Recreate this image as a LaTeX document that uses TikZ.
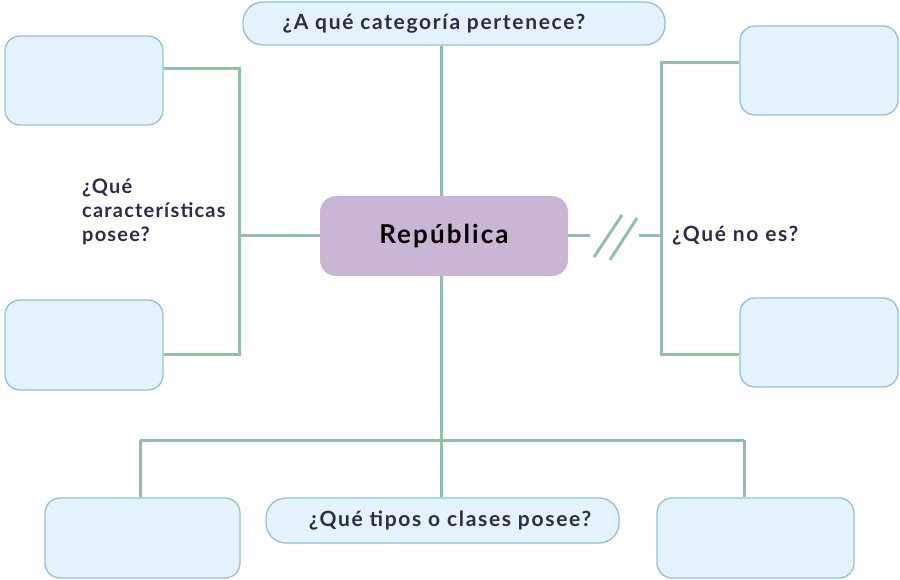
\documentclass[tikz,border=0pt]{standalone}
\usepackage{fontspec}
\setmainfont{Lato}
\newfontfamily\lblfont[LetterSpace=8]{Lato}
\newfontfamily\leftfont[LetterSpace=6]{Lato}
\newfontfamily\repfont[LetterSpace=8]{Lato}
\usetikzlibrary{calc}
\definecolor{linegreen}{HTML}{93C0A4}
\definecolor{boxfill}{HTML}{E4F2FB}
\definecolor{boxdraw}{HTML}{8FC1D9}
\definecolor{repfill}{HTML}{C8B6D4}
\definecolor{txt}{HTML}{2D2A4B}
\tikzset{
  conn/.style={draw=linegreen, line width=3pt, line join=miter},
  emptybox/.style={draw=boxdraw, fill=boxfill, line width=1.3pt, rounded corners=15pt, inner sep=0pt},
  pill/.style={draw=boxdraw, fill=boxfill, line width=1.3pt, rounded corners=20pt, inner sep=0pt, text=txt, font=\lblfont\bfseries\fontsize{21}{24}\selectfont},
  lbl/.style={text=txt, font=\lblfont\bfseries\fontsize{21}{24}\selectfont, inner sep=0pt},
  leftlbl/.style={text=txt, font=\leftfont\bfseries\fontsize{20}{24}\selectfont, inner sep=0pt},
  repbox/.style={fill=repfill, rounded corners=16pt, inner sep=0pt, font=\repfont\bfseries\fontsize{26}{30}\selectfont, text=black}
}
\begin{document}
\begin{tikzpicture}[x=1pt, y=-1pt]
\useasboundingbox (0,0) rectangle (900,580);
% nodes
\node[repbox, minimum width=248pt, minimum height=80pt] (rep) at (444,236) {\raisebox{-3pt}{República}};
\node[pill, minimum width=422pt, minimum height=43pt] (tq) at (454,23.5) {¿A qué categoría pertenece?\hspace*{40pt}};
\node[pill, minimum width=353pt, minimum height=45pt] (bq) at (442.5,520.5) {\hspace*{15pt}¿Qué tipos o clases posee?};
\node[emptybox, minimum width=158pt, minimum height=89pt] (lt) at (84,80.5) {};
\node[emptybox, minimum width=158pt, minimum height=90pt] (lb) at (84,345) {};
\node[emptybox, minimum width=158pt, minimum height=89pt] (rt) at (819,70.5) {};
\node[emptybox, minimum width=158pt, minimum height=89pt] (rb) at (819,342.5) {};
\node[emptybox, minimum width=195pt, minimum height=80pt] (bl) at (142.5,538) {};
\node[emptybox, minimum width=197pt, minimum height=80pt] (br) at (755.5,538) {};
\node[leftlbl, anchor=west, align=left] (qc) at (82,212) {¿Qué\\características\\posee?};
\node[lbl, anchor=west] (qn) at (672,236) {¿Qué no es?};
% junction coordinates
\coordinate (cL1) at (239,69);
\coordinate (cL2) at (239,354);
\coordinate (cR1) at (661,63);
\coordinate (cR2) at (661,354);
\coordinate (cB) at (441,440);
\coordinate (cBL) at (140,440);
\coordinate (cBR) at (744,440);
\coordinate (s1) at (590,236);
\coordinate (s2) at (639,236);
% connectors
\draw[conn] (lt.east |- cL1) -- (cL1) -- (cL2) -- (lb.east |- cL2);
\draw[conn] (rep.west) -- (rep.west -| cL1);
\draw[conn] (rt.west |- cR1) -- (cR1) -- (cR2) -- (rb.west |- cR2);
\draw[conn] (rep.east) -- (s1);
\draw[conn] (s2) -- (rep.east -| cR1);
\draw[conn] ($(s1)+(4,21)$) -- ($(s1)+(32,-21)$);
\draw[conn] ($(s1)+(20,24)$) -- ($(s1)+(47,-18)$);
\draw[conn] (tq.south -| cB) -- (rep.north -| cB);
\draw[conn] (rep.south -| cB) -- (cB);
\draw[conn] (cBL) -- (cBR);
\draw[conn] (cBL) -- (cBL |- bl.north);
\draw[conn] (cBR) -- (cBR |- br.north);
\draw[conn] (cB) -- (cB |- bq.north);
\end{tikzpicture}
\end{document}
